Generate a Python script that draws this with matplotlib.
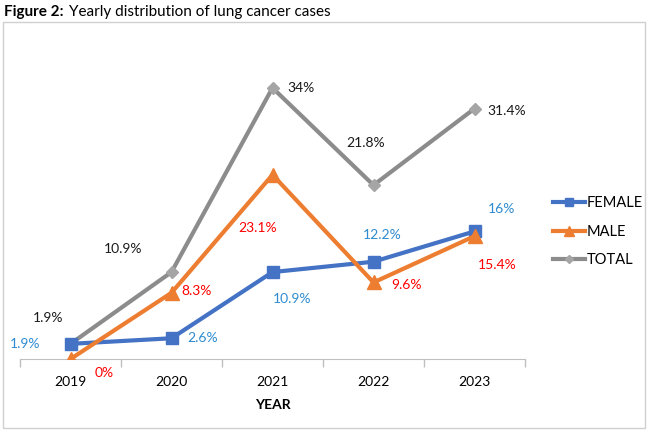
import numpy as np
import matplotlib.pyplot as plt
from matplotlib.patches import Rectangle

# data (percent of cases per year)
years = ["2019", "2020", "2021", "2022", "2023"]
female = [1.9, 2.6, 10.9, 12.2, 16]
male = [0, 8.3, 23.1, 9.6, 15.4]
total = [1.9, 10.9, 34, 21.8, 31.4]

female_lbl = ["1.9%", "2.6%", "10.9%", "12.2%", "16%"]
male_lbl = ["0%", "8.3%", "23.1%", "9.6%", "15.4%"]
total_lbl = ["1.9%", "10.9%", "34%", "21.8%", "31.4%"]

# label offsets in pixels
female_off = [(-45, 0), (31, 0), (20, -27), (9, 27), (27, 22)]
male_off = [(34, -14), (25, 2), (-15, -53), (33, -3), (23, -29)]
total_off = [(-22, 26), (-48, 23), (29, 0), (-8, 42), (32, -2)]

plt.rcParams['font.family'] = ['Lato', 'DejaVu Sans']

fig = plt.figure(figsize=(6.53, 4.3), dpi=100)
ax = fig.add_axes([20/653, 71/430, 505/653, 319/430])

x = np.arange(len(years))
l1, = ax.plot(x, female, color="#4472C4", lw=3, marker="s", ms=9, label="FEMALE", zorder=3)
l2, = ax.plot(x, male, color="#ED7D31", lw=3, marker="^", ms=10, label="MALE", zorder=3)
l3, = ax.plot(x, total, color="#8C8C8C", lw=3, marker="D", ms=6, mfc="#A5A5A5", mec="#A5A5A5", label="TOTAL", zorder=2)

for vals, lbls, offs, col in [(female, female_lbl, female_off, "#2E8BD0"),
                              (male, male_lbl, male_off, "#FF0000"),
                              (total, total_lbl, total_off, "#1a1a1a")]:
    for i in range(len(vals)):
        ax.annotate(lbls[i], (x[i], vals[i]), xytext=offs[i], textcoords="offset pixels",
                    ha="center", va="center", color=col, fontsize=10)

ax.set_xlim(-0.5, 4.5)
ax.set_ylim(0, 40)
ax.set_xticks(x)
ax.set_xticklabels(years, fontsize=10)
ax.set_xticks(np.arange(-0.5, 5, 1), minor=True)
ax.tick_params(axis="x", which="major", length=0, pad=12)
ax.tick_params(axis="x", which="minor", length=6, color="#BFBFBF", width=1)
ax.set_yticks([])
for s in ["top", "right", "left"]:
    ax.spines[s].set_visible(False)
ax.spines["bottom"].set_color("#BFBFBF")
ax.set_xlabel("YEAR", fontweight="bold", fontsize=10, labelpad=8)

fig.legend(handles=[l1, l2, l3], loc="upper left", bbox_to_anchor=(540/653, 1 - 183/430),
           frameon=False, fontsize=10.5, handlelength=2.2, labelspacing=1.0, handletextpad=0.1,
           markerscale=0.7)

fig.patches.append(Rectangle((3/653, 2/430), 642/653, 406/430, transform=fig.transFigure,
                             fill=False, edgecolor="#D0D0D0", lw=1))
fig.text(4/653, 1 - 12/430, "Figure 2:", fontweight="bold", fontsize=11, va="center", ha="left")
fig.text(69/653, 1 - 12/430, "Yearly distribution of lung cancer cases", fontsize=11, va="center", ha="left")

fig.savefig("out.png", dpi=100)
